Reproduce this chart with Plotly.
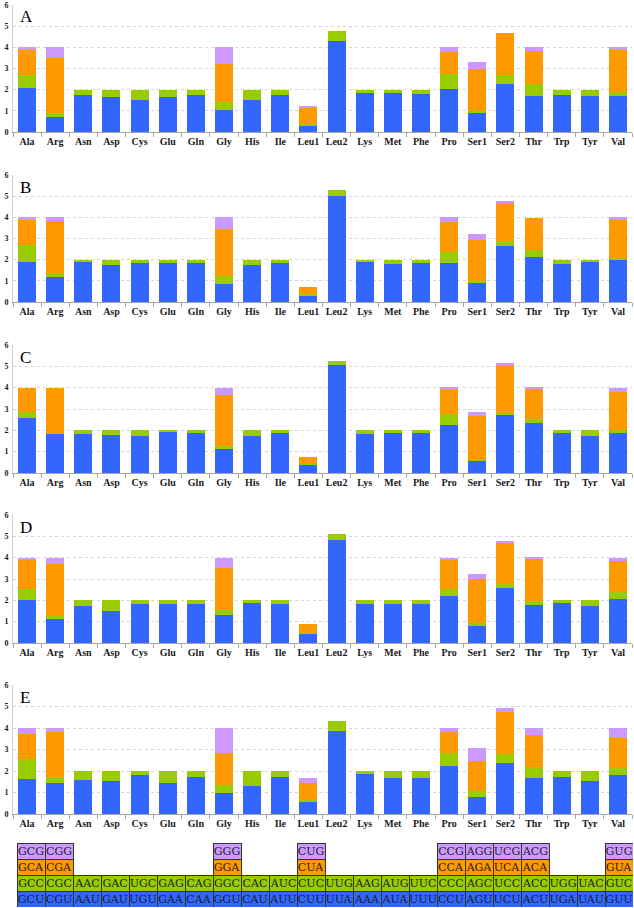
import plotly.graph_objects as go

categories = ["Ala", "Arg", "Asn", "Asp", "Cys", "Glu", "Gln", "Gly", "His", "Ile", "Leu1",
              "Leu2", "Lys", "Met", "Phe", "Pro", "Ser1", "Ser2", "Thr", "Trp", "Tyr", "Val"]
panel_labels = ["A", "B", "C", "D", "E"]
y_ticks = [0, 1, 2, 3, 4, 5, 6]

# RSCU values per panel: U-ending (blue), C-ending (green), A-ending (orange), G-ending (purple)
A_U = [2.09, 0.69, 1.74, 1.64, 1.51, 1.67, 1.74, 1.06, 1.51, 1.74, 0.33, 4.31, 1.85, 1.85, 1.81, 2.04, 0.92, 2.27, 1.70, 1.76, 1.70, 1.70]
A_C = [0.59, 0.20, 0.26, 0.36, 0.49, 0.33, 0.26, 0.37, 0.49, 0.26, 0.06, 0.47, 0.15, 0.15, 0.19, 0.72, 0.05, 0.44, 0.57, 0.24, 0.30, 0.17]
A_A = [1.20, 2.60, 0, 0, 0, 0, 0, 1.79, 0, 0, 0.78, 0, 0, 0, 0, 1.04, 1.99, 1.98, 1.58, 0, 0, 2.01]
A_G = [0.12, 0.51, 0, 0, 0, 0, 0, 0.78, 0, 0, 0.06, 0, 0, 0, 0, 0.20, 0.36, 0.00, 0.15, 0, 0, 0.12]

B_U = [1.88, 1.21, 1.90, 1.76, 1.85, 1.85, 1.85, 0.86, 1.76, 1.82, 0.33, 5.00, 1.87, 1.81, 1.82, 1.82, 0.88, 2.65, 2.13, 1.81, 1.88, 2.01]
B_C = [0.80, 0.09, 0.10, 0.24, 0.15, 0.15, 0.15, 0.38, 0.24, 0.18, 0.03, 0.29, 0.13, 0.19, 0.18, 0.54, 0.12, 0.25, 0.32, 0.19, 0.12, 0.08]
B_A = [1.23, 2.55, 0, 0, 0, 0, 0, 2.20, 0, 0, 0.35, 0, 0, 0, 0, 1.41, 1.95, 1.79, 1.54, 0, 0, 1.83]
B_G = [0.09, 0.15, 0, 0, 0, 0, 0, 0.56, 0, 0, 0.00, 0, 0, 0, 0, 0.23, 0.27, 0.08, 0.00, 0, 0, 0.08]

C_U = [2.59, 1.83, 1.83, 1.78, 1.73, 1.94, 1.86, 1.13, 1.75, 1.89, 0.38, 5.06, 1.83, 1.86, 1.91, 2.23, 0.58, 2.70, 2.34, 1.86, 1.72, 1.86]
C_C = [0.28, 0.02, 0.17, 0.22, 0.27, 0.06, 0.14, 0.14, 0.25, 0.11, 0.02, 0.17, 0.17, 0.14, 0.09, 0.52, 0.05, 0.10, 0.18, 0.14, 0.28, 0.14]
C_A = [1.13, 2.15, 0, 0, 0, 0, 0, 2.39, 0, 0, 0.37, 0, 0, 0, 0, 1.23, 2.04, 2.25, 1.42, 0, 0, 1.80]
C_G = [0.00, 0.00, 0, 0, 0, 0, 0, 0.34, 0, 0, 0.00, 0, 0, 0, 0, 0.02, 0.19, 0.11, 0.06, 0, 0, 0.20]

D_U = [2.02, 1.17, 1.73, 1.50, 1.84, 1.81, 1.84, 1.33, 1.87, 1.84, 0.45, 4.83, 1.81, 1.81, 1.81, 2.19, 0.80, 2.56, 1.78, 1.87, 1.75, 2.06]
D_C = [0.50, 0.08, 0.27, 0.50, 0.16, 0.19, 0.16, 0.20, 0.13, 0.16, 0.01, 0.26, 0.19, 0.19, 0.19, 0.33, 0.15, 0.21, 0.20, 0.13, 0.25, 0.33]
D_A = [1.40, 2.47, 0, 0, 0, 0, 0, 1.99, 0, 0, 0.43, 0, 0, 0, 0, 1.37, 2.03, 1.93, 1.99, 0, 0, 1.44]
D_G = [0.08, 0.28, 0, 0, 0, 0, 0, 0.48, 0, 0, 0.00, 0, 0, 0, 0, 0.11, 0.24, 0.08, 0.03, 0, 0, 0.17]

E_U = [1.61, 1.44, 1.56, 1.52, 1.80, 1.45, 1.72, 0.97, 1.31, 1.72, 0.58, 3.84, 1.88, 1.67, 1.66, 2.25, 0.78, 2.39, 1.66, 1.73, 1.53, 1.80]
E_C = [0.95, 0.29, 0.44, 0.48, 0.20, 0.55, 0.28, 0.37, 0.69, 0.28, 0.08, 0.50, 0.12, 0.33, 0.34, 0.59, 0.28, 0.39, 0.54, 0.27, 0.47, 0.33]
E_A = [1.17, 2.08, 0, 0, 0, 0, 0, 1.52, 0, 0, 0.79, 0, 0, 0, 0, 0.96, 1.41, 1.97, 1.46, 0, 0, 1.42]
E_G = [0.27, 0.19, 0, 0, 0, 0, 0, 1.14, 0, 0, 0.24, 0, 0, 0, 0, 0.20, 0.62, 0.17, 0.34, 0, 0, 0.45]

# Codon table rows (bottom to top)
codon_U = ["GCU", "CGU", "AAU", "GAU", "UGU", "GAA", "CAA", "GGU", "CAU", "AUU", "CUU",
           "UUA", "AAA", "AUA", "UUU", "CCU", "AGU", "UCU", "ACU", "UGA", "UAU", "GUU"]
codon_C = ["GCC", "CGC", "AAC", "GAC", "UGC", "GAG", "CAG", "GGC", "CAC", "AUC", "CUC",
           "UUG", "AAG", "AUG", "UUC", "CCC", "AGC", "UCC", "ACC", "UGG", "UAC", "GUC"]
codon_A = ["GCA", "CGA", "", "", "", "", "", "GGA", "", "", "CUA",
           "", "", "", "", "CCA", "AGA", "UCA", "ACA", "", "", "GUA"]
codon_G = ["GCG", "CGG", "", "", "", "", "", "GGG", "", "", "CUG",
           "", "", "", "", "CCG", "AGG", "UCG", "ACG", "", "", "GUG"]

panels = [
    (A_U, A_C, A_A, A_G),
    (B_U, B_C, B_A, B_G),
    (C_U, C_C, C_A, C_G),
    (D_U, D_C, D_A, D_G),
    (E_U, E_C, E_A, E_G),
]

colors = ["#3366FF", "#99CC00", "#FF9900", "#CC99FF"]

W, H = 634, 908
# panel plot areas in pixels (top, bottom)
panel_px = [(5, 132), (175, 302), (345, 473), (515, 643), (685, 814)]
x_px = (13, 632)
table_px_y = (843, 907)
table_px_x = (17, 633)

fig = go.Figure()
layout = dict(
    width=W, height=H,
    margin=dict(l=0, r=0, t=0, b=0, autoexpand=False),
    paper_bgcolor="white", plot_bgcolor="white",
    barmode="stack", bargap=0.36,
    showlegend=False,
    font=dict(family="Liberation Serif", color="black"),
)

annotations = []
for i, (vals, label) in enumerate(zip(panels, panel_labels)):
    ax = "" if i == 0 else str(i + 1)
    for j, series in enumerate(vals):
        fig.add_trace(go.Bar(
            x=categories, y=series, marker=dict(color=colors[j], line=dict(width=0)),
            xaxis="x" + ax, yaxis="y" + ax, hoverinfo="x+y",
        ))
    top, bot = panel_px[i]
    layout["xaxis" + ax] = dict(
        domain=[x_px[0] / W, x_px[1] / W], anchor="y" + ax,
        type="category", categoryorder="array", categoryarray=categories,
        showline=True, linecolor="#a6a6a6", linewidth=1,
        ticks="outside", tickson="boundaries", ticklen=4, tickcolor="#a6a6a6",
        tickangle=0, automargin=False,
        tickfont=dict(family="Liberation Serif", size=10, color="#1a1a1a", weight="bold"),
        showgrid=False, fixedrange=True,
    )
    layout["yaxis" + ax] = dict(
        domain=[1 - bot / H, 1 - top / H], anchor="x" + ax,
        range=[0, 6], tickvals=y_ticks, ticktext=[str(t) for t in y_ticks],
        showgrid=True, gridcolor="#d4d4d4", griddash="dot", gridwidth=1,
        showline=True, linecolor="#d0d0d0", linewidth=1,
        ticks="", ticklabelstandoff=2, automargin=False,
        tickfont=dict(family="Liberation Serif", size=8, color="#1a1a1a", weight="bold"),
        zeroline=False, fixedrange=True,
    )
    annotations.append(dict(
        text=label, xref="paper", yref="paper",
        x=(x_px[0] + 5) / W, y=1 - (top + 12) / H, xanchor="left", yanchor="middle",
        showarrow=False, font=dict(family="Liberation Serif", size=17, color="black"),
    ))

# codon table as a stacked bar subplot
table_rows = [codon_U, codon_C, codon_A, codon_G]
for j, row in enumerate(table_rows):
    yv = [1 if c else None for c in row]
    fig.add_trace(go.Bar(
        x=categories, y=yv, text=row, textposition="inside", insidetextanchor="middle",
        textangle=0, textfont=dict(family="DejaVu Serif", size=11, color="#1e1e1e"),
        marker=dict(color=colors[j], line=dict(color="#333333", width=1)),
        xaxis="x6", yaxis="y6", hoverinfo="text", width=1.0,
    ))
layout["xaxis6"] = dict(
    domain=[table_px_x[0] / W, table_px_x[1] / W], anchor="y6",
    type="category", categoryorder="array", categoryarray=categories,
    showticklabels=False, showline=False, showgrid=False, ticks="", fixedrange=True,
    range=[-0.5, len(categories) - 0.5], automargin=False,
)
layout["yaxis6"] = dict(
    domain=[1 - table_px_y[1] / H, 1 - table_px_y[0] / H], anchor="x6",
    range=[0, 4], showticklabels=False, showgrid=False, showline=False,
    zeroline=False, ticks="", fixedrange=True, automargin=False,
)
layout["annotations"] = annotations
layout["uniformtext"] = dict(minsize=10, mode="show")
fig.update_layout(**layout)

fig.write_html(
    "out.html",
    config={"displayModeBar": False},
    post_script="document.body.style.margin='0px';document.body.style.overflow='hidden';",
)
